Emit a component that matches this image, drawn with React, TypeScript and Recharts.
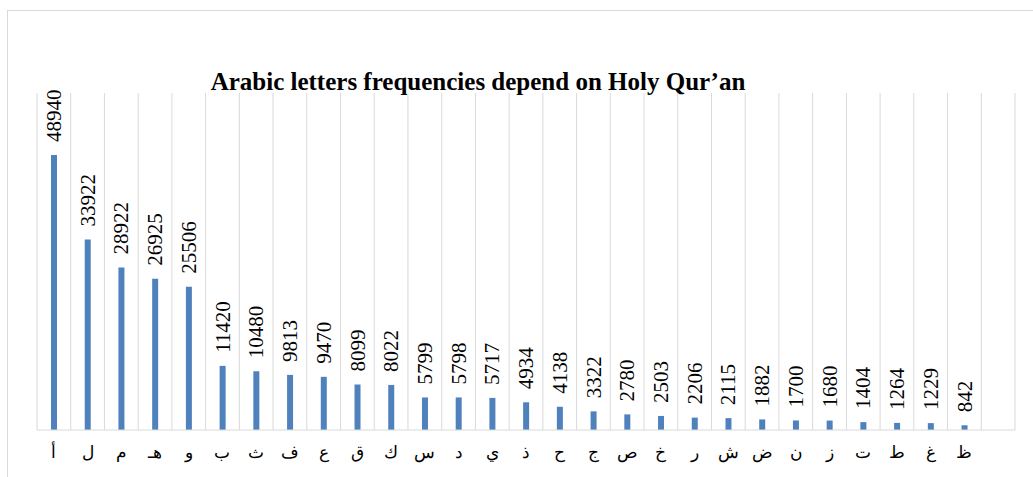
import { BarChart, Bar, XAxis, YAxis, CartesianGrid, LabelList } from "recharts";

const letters = ["أ", "ل", "م", "هـ", "و", "ب", "ث", "ف", "ع", "ق", "ك", "س", "د", "ي", "ذ", "ح", "ج", "ص", "خ", "ر", "ش", "ض", "ن", "ز", "ت", "ط", "غ", "ظ", ""];
const counts: (number | null)[] = [48940, 33922, 28922, 26925, 25506, 11420, 10480, 9813, 9470, 8099, 8022, 5799, 5798, 5717, 4934, 4138, 3322, 2780, 2503, 2206, 2115, 1882, 1700, 1680, 1404, 1264, 1229, 842, null];

const data = letters.map((l, i) => ({ letter: l, count: counts[i] }));

const serif = "'Liberation Serif', 'Times New Roman', serif";

function ValueLabel(props: any) {
  const { x, y, width, value } = props;
  if (value == null) return null;
  const cx = x + width / 2;
  const ty = y - 13;
  return (
    <text
      x={cx}
      y={ty}
      transform={`rotate(-90 ${cx} ${ty})`}
      textAnchor="start"
      dominantBaseline="central"
      fontSize={21}
      fontFamily={serif}
      fill="#000"
    >
      {value}
    </text>
  );
}

function LetterTick(props: any) {
  const { x, y, payload } = props;
  return (
    <text x={x} y={y + 14} textAnchor="middle" dominantBaseline="central" fontSize={17} fontFamily={serif} fill="#000">
      {payload.value}
    </text>
  );
}

export default function App() {
  return (
    <div style={{ position: "absolute", left: 0, top: 0, width: 1033, height: 477, overflow: "hidden", background: "#fff" }}>
      <div style={{ position: "absolute", left: 7, top: 10, width: 1100, height: 600, border: "1px solid #d9d9d9" }} />
      <div
        style={{
          position: "absolute",
          left: 0,
          top: 69,
          width: 956,
          textAlign: "center",
          fontFamily: serif,
          fontWeight: "bold",
          fontSize: 25,
          lineHeight: "25px",
          color: "#000",
          whiteSpace: "nowrap",
        }}
      >
        Arabic letters frequencies depend on Holy Qur’an
      </div>
      <div style={{ position: "absolute", left: 0, top: 0 }}>
        <BarChart width={1033} height={477} data={data} margin={{ top: 93, right: 18, bottom: 0, left: 37 }} barCategoryGap={0}>
          <CartesianGrid
            horizontal={false}
            stroke="#d9d9d9"
            verticalCoordinatesGenerator={({ offset }: any) =>
              letters.map((_, i) => offset.left + (i * offset.width) / letters.length).concat(offset.left + offset.width)
            }
          />
          <XAxis dataKey="letter" height={47} interval={0} tickLine={false} axisLine={{ stroke: "#d9d9d9" }} tick={<LetterTick />} />
          <YAxis hide domain={[0, 60000]} />
          <Bar dataKey="count" fill="#4f81bd" barSize={6} isAnimationActive={false}>
            <LabelList dataKey="count" content={<ValueLabel />} />
          </Bar>
        </BarChart>
      </div>
    </div>
  );
}
